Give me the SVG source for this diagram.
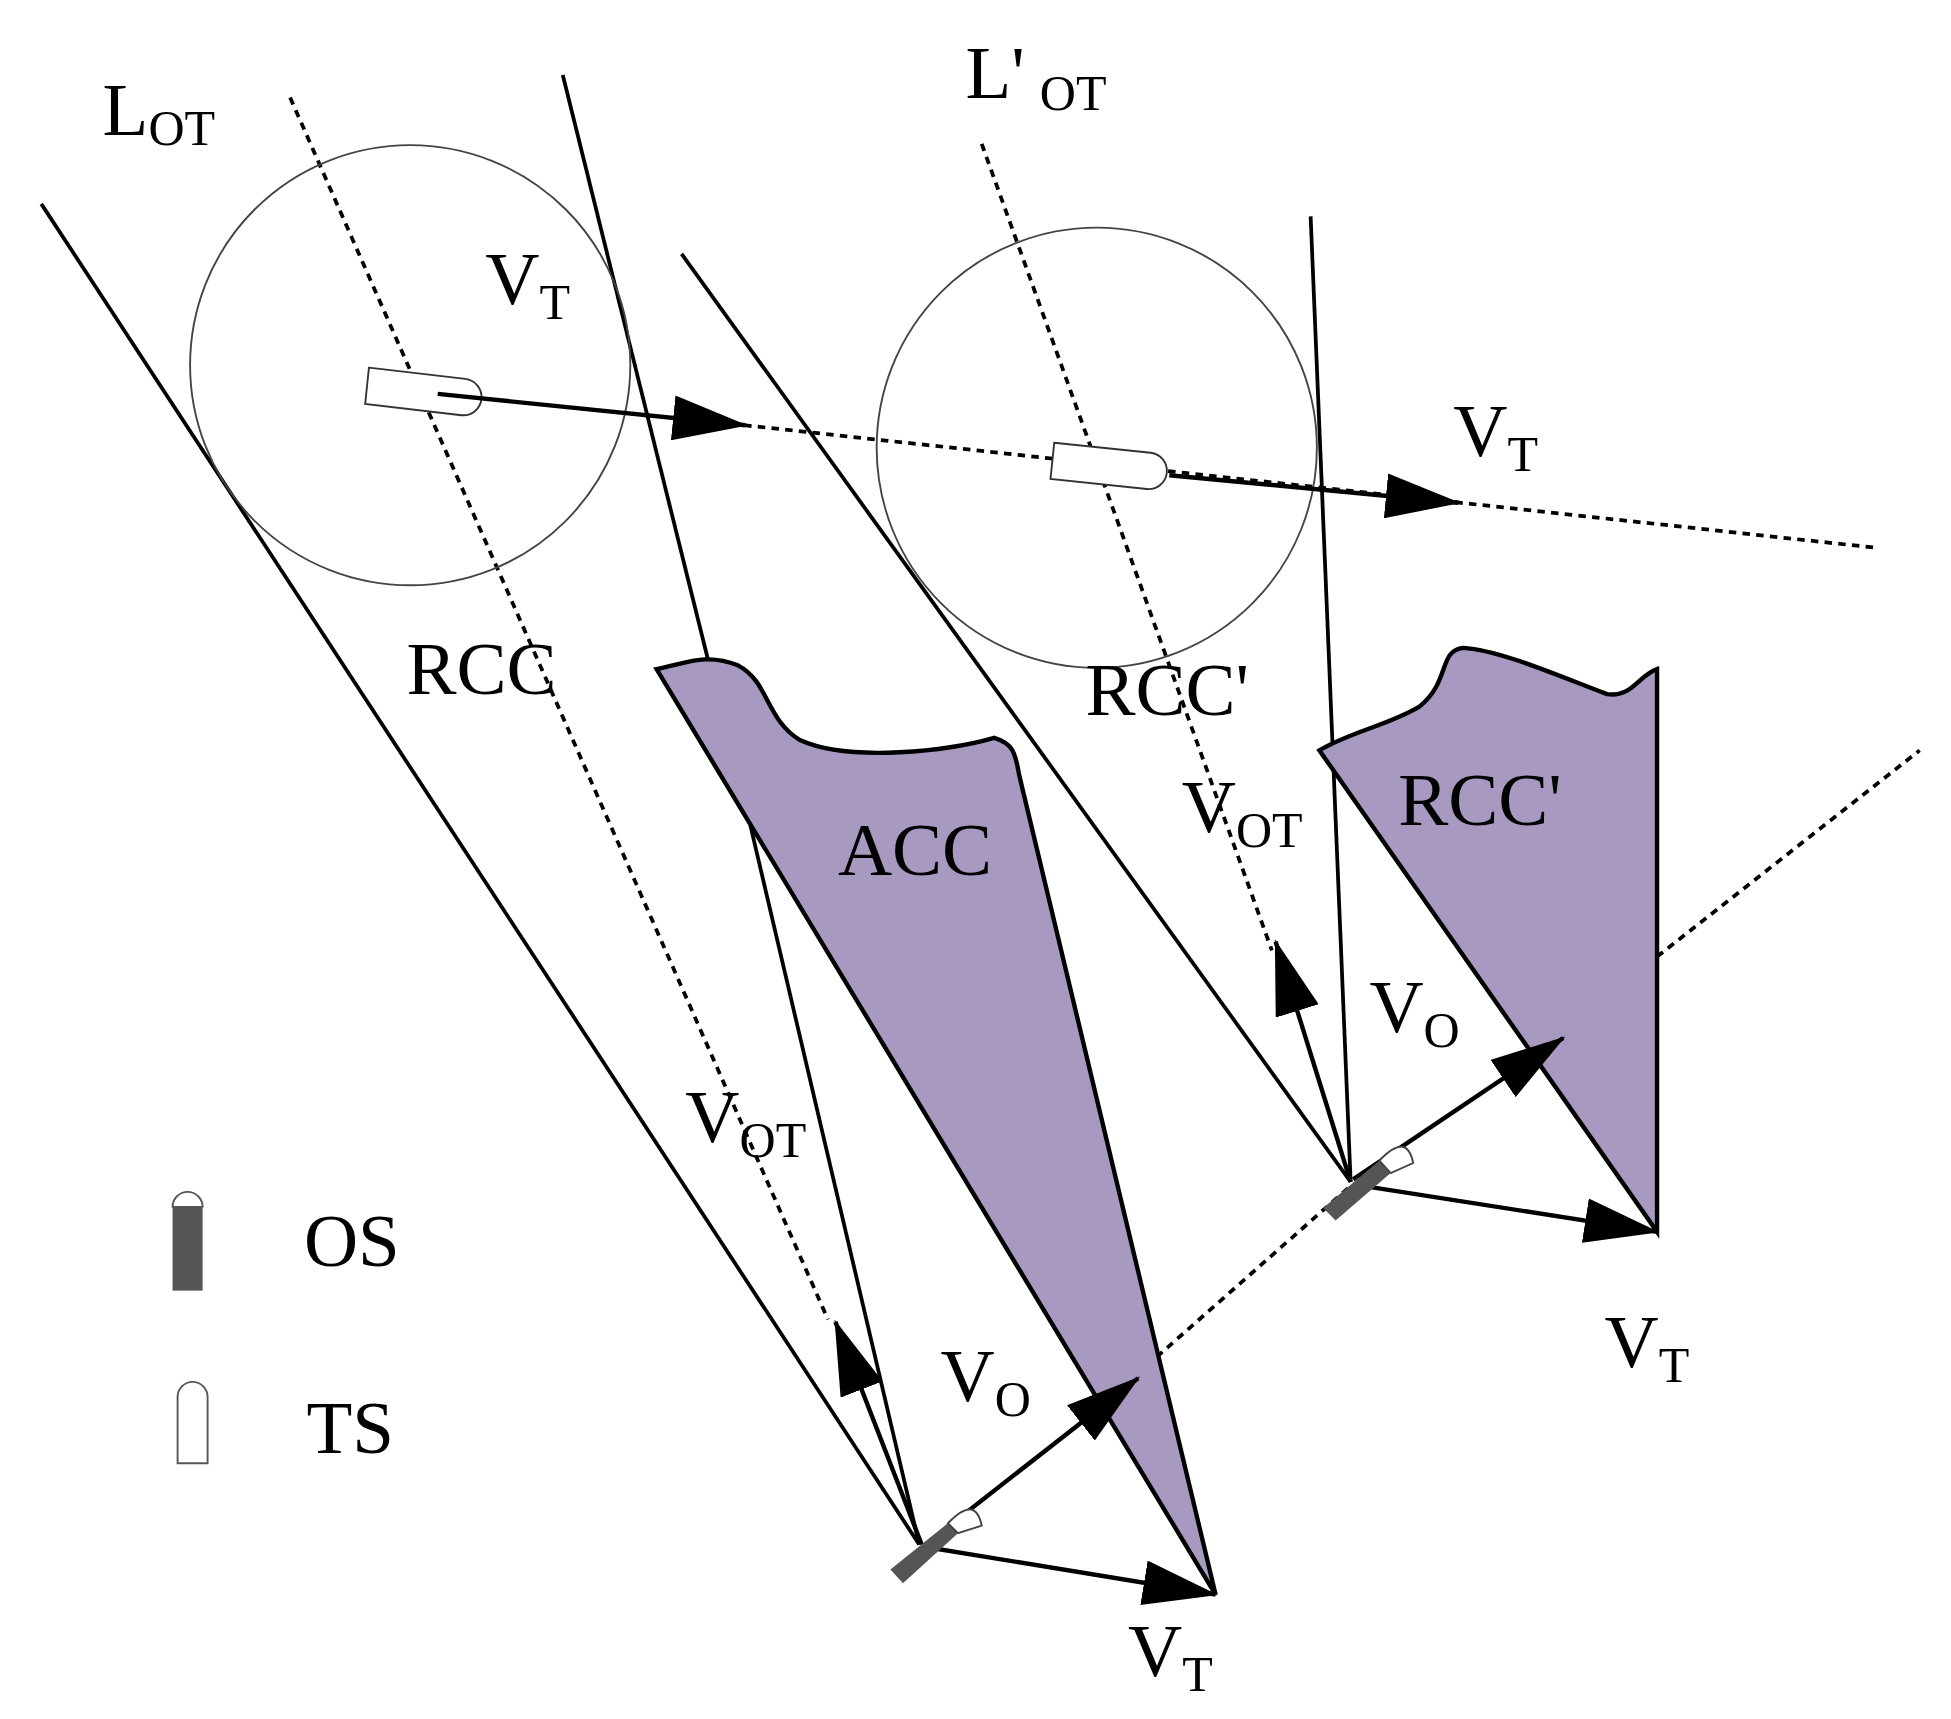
<svg xmlns="http://www.w3.org/2000/svg" width="1951" height="1719" viewBox="0 0 1951 1719">
<style>
.ln{stroke:#000;stroke-width:3;fill:none}
.dot{stroke:#000;stroke-width:3;fill:none;stroke-dasharray:6 5}
.cir{stroke:#444;stroke-width:1.5;fill:none}
.acc{fill:#a899c0;stroke:#000;stroke-width:3.5}
.ar{stroke:#000;stroke-width:3.5;fill:none;marker-end:url(#ah)}
text{font-family:"Liberation Serif",serif;font-size:60px;fill:#000}
.s{font-size:40px}
</style>
<defs>
<marker id="ah" viewBox="0 0 60 36" refX="58" refY="18" markerWidth="60" markerHeight="36" markerUnits="userSpaceOnUse" orient="auto"><path d="M0,0 L60,18 L0,36 Z" fill="#000"/></marker>
</defs>
<rect width="1951" height="1719" fill="#fff"/>
<g transform="scale(1.2506)">
<g id="connectors">
<line class="ln" x1="33" y1="163" x2="735" y2="1235"/>
<line class="ln" x1="450" y1="60" x2="566" y2="527"/>
<line class="ln" x1="545" y1="203" x2="1080" y2="945"/>
<line class="ln" x1="1048" y1="173" x2="1080" y2="945"/>
<line class="dot" x1="232" y1="78" x2="662" y2="1055"/>
<line class="dot" x1="785" y1="115" x2="1017" y2="760"/>
<line class="dot" x1="595" y1="340" x2="1500" y2="438"/>
<line class="dot" x1="925" y1="1085" x2="1078" y2="950"/>
<line class="dot" x1="1325" y1="765" x2="1535" y2="600"/>
<circle class="cir" cx="328" cy="292" r="176"/>
<circle class="cir" cx="877" cy="358" r="176"/>
</g>
<g id="acc"><path class="acc" d="M525,535 C550,530 565,522 590,532 C615,545 612,575 640,592 C680,610 760,600 795,590 C812,595 812,605 815,620 L972,1275 Z"/>
<text x="670" y="700">ACC</text></g>
<g id="rccp"><path class="acc" d="M1055,600 C1080,585 1110,580 1135,565 C1160,545 1150,520 1170,518 C1200,520 1245,540 1285,555 C1305,558 1310,540 1325,535 L1325,985 Z"/>
<text x="1118" y="660">RCC'</text></g>
<g id="os1-lines">
<line class="ln" x1="735" y1="1235" x2="600" y2="660"/>
<line class="ar" x1="737" y1="1235" x2="668" y2="1057"/>
<line class="ar" x1="740" y1="1235" x2="910" y2="1102"/>
<line class="ar" x1="740" y1="1237" x2="972" y2="1275"/>
</g>
<g id="os2-lines">
<line class="ar" x1="1080" y1="945" x2="1020" y2="753"/>
<line class="ar" x1="1082" y1="943" x2="1250" y2="830"/>
<line class="ar" x1="1082" y1="947" x2="1325" y2="985"/>
</g>
<g id="ts1">
<path d="M295,294 L372,303 A14,14 0 0 1 369,332 L292,323 Z" fill="#fff" stroke="#333" stroke-width="1.5"/>
<line class="ar" x1="350" y1="315" x2="596" y2="340"/>
</g>
<g id="ts2">
<path d="M843,354 L920,362 A14,14 0 0 1 917,391 L840,383 Z" fill="#fff" stroke="#333" stroke-width="1.5"/>
<line class="ar" x1="935" y1="380" x2="1166" y2="402"/>
</g>
<g id="os1"><path d="M712,1255 L758,1218 L766,1226 L722,1266 Z" fill="#555"/><path d="M758,1218 Q780,1195 785,1220 L766,1226 Z" fill="#fff" stroke="#444" stroke-width="1.5"/></g>
<g id="os2"><path d="M1058,966 L1103,928 L1112,938 L1068,976 Z" fill="#555"/><path d="M1103,928 Q1125,905 1130,930 L1112,938 Z" fill="#fff" stroke="#444" stroke-width="1.5"/></g>
<g id="legend">
<rect x="138" y="965" width="24" height="67" fill="#555"/>
<path d="M138,965 A12,12 0 0 1 162,965 Z" fill="#fff" stroke="#555" stroke-width="1.5"/>
<path d="M142,1117 A12,12 0 0 1 166,1117 L166,1170 L142,1170 Z" fill="#fff" stroke="#555" stroke-width="1.5"/>
<text x="243" y="1012">OS</text>
<text x="245" y="1162">TS</text>
</g>
<g id="labels">
<text x="82" y="108">L<tspan class="s" dy="8">OT</tspan></text>
<text x="772" y="78">L'<tspan class="s" dx="12" dy="10">OT</tspan></text>
<text x="388" y="243">V<tspan class="s" dy="12">T</tspan></text>
<text x="1162" y="365">V<tspan class="s" dy="12">T</tspan></text>
<text x="325" y="555">RCC</text>
<text x="868" y="572">RCC'</text>
<text x="945" y="665">V<tspan class="s" dy="12">OT</tspan></text>
<text x="548" y="913">V<tspan class="s" dy="12">OT</tspan></text>
<text x="1095" y="825">V<tspan class="s" dy="12">O</tspan></text>
<text x="752" y="1120">V<tspan class="s" dy="12">O</tspan></text>
<text x="1283" y="1093">V<tspan class="s" dy="12">T</tspan></text>
<text x="902" y="1340">V<tspan class="s" dy="12">T</tspan></text>
</g>
</g>
</svg>
